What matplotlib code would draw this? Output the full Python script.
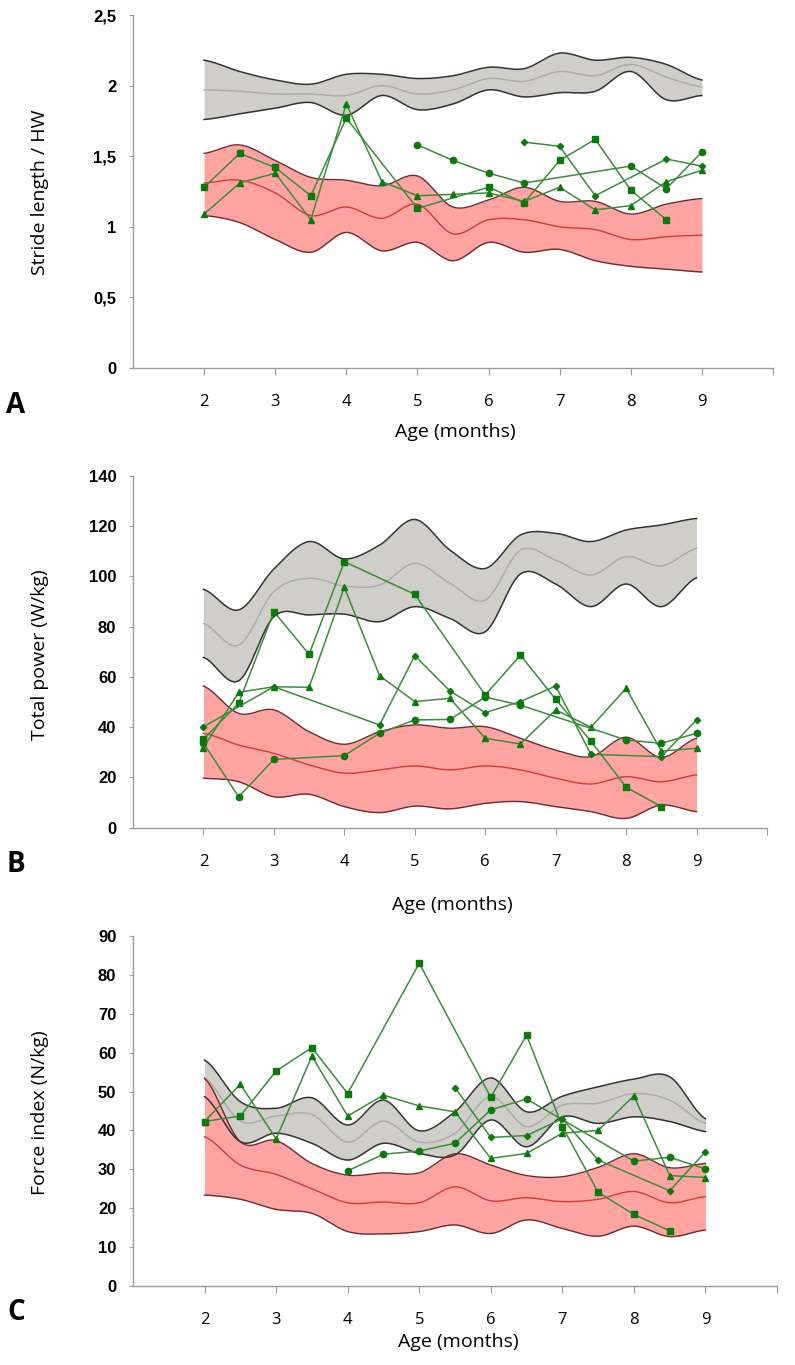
import numpy as np
import matplotlib
matplotlib.use("Agg")
import matplotlib.pyplot as plt
from matplotlib.ticker import FuncFormatter

# common knots for the reference bands (months)
knots = [2, 2.5, 3, 3.5, 4, 4.5, 5, 5.5, 6, 6.5, 7, 7.5, 8, 8.5, 9]

# ---- panel A : stride length / HW
a_grey_hi = [2.18, 2.10, 2.04, 2.01, 2.08, 2.08, 2.05, 2.07, 2.13, 2.12, 2.23, 2.18, 2.20, 2.15, 2.04]
a_grey_mid = [1.97, 1.96, 1.94, 1.94, 1.93, 2.00, 1.94, 1.97, 2.05, 2.03, 2.10, 2.07, 2.15, 2.06, 1.99]
a_grey_lo = [1.76, 1.80, 1.84, 1.88, 1.79, 1.93, 1.83, 1.87, 1.97, 1.92, 1.95, 1.96, 2.10, 1.90, 1.93]
a_red_hi = [1.52, 1.58, 1.47, 1.35, 1.33, 1.29, 1.36, 1.14, 1.19, 1.28, 1.18, 1.18, 1.09, 1.16, 1.20]
a_red_mid = [1.31, 1.33, 1.24, 1.08, 1.14, 1.06, 1.16, 0.95, 1.05, 1.05, 1.00, 0.98, 0.91, 0.93, 0.94]
a_red_lo = [1.08, 1.03, 0.91, 0.82, 0.96, 0.83, 0.89, 0.76, 0.89, 0.82, 0.84, 0.76, 0.72, 0.70, 0.68]

a_sq_x = [2, 2.5, 3, 3.5, 4, 5, 6, 6.5, 7, 7.5, 8, 8.5]
a_sq_y = [1.28, 1.52, 1.42, 1.22, 1.77, 1.13, 1.28, 1.17, 1.47, 1.62, 1.26, 1.05]
a_tri_x = [2, 2.5, 3, 3.5, 4, 4.5, 5, 5.5, 6, 6.5, 7, 7.5, 8, 8.5, 9]
a_tri_y = [1.09, 1.31, 1.38, 1.05, 1.87, 1.32, 1.22, 1.23, 1.24, 1.18, 1.28, 1.12, 1.15, 1.32, 1.40]
a_circ_x = [5, 5.5, 6, 6.5, 8, 8.5, 9]
a_circ_y = [1.58, 1.47, 1.38, 1.31, 1.43, 1.27, 1.53]
a_dia_x = [6.5, 7, 7.5, 8.5, 9]
a_dia_y = [1.60, 1.57, 1.22, 1.48, 1.43]

# ---- panel B : total power
b_grey_hi = [94.9, 86.7, 103.0, 113.9, 107.0, 112.5, 122.7, 110.5, 103.2, 116.5, 117.2, 113.9, 118.5, 120.5, 123.1]
b_grey_mid = [81.3, 72.7, 94.0, 99.3, 96.2, 96.6, 105.2, 97.3, 90.6, 110.5, 106.5, 100.6, 107.9, 104.2, 111.2]
b_grey_lo = [67.8, 58.5, 84.0, 84.7, 85.0, 82.0, 88.0, 83.3, 78.0, 101.0, 97.0, 88.0, 97.0, 88.0, 99.5]
b_red_hi = [56.4, 45.5, 46.9, 38.2, 33.2, 38.2, 40.9, 39.6, 40.2, 35.6, 30.9, 28.3, 36.0, 28.0, 35.6]
b_red_mid = [37.6, 32.9, 29.6, 25.0, 21.7, 23.0, 24.6, 23.0, 24.6, 23.0, 19.7, 17.4, 20.3, 18.3, 21.0]
b_red_lo = [19.7, 18.3, 12.3, 13.3, 8.4, 6.0, 8.6, 7.5, 9.7, 10.4, 8.4, 6.4, 3.7, 9.0, 6.4]

b_sq_x = [2, 2.5, 3, 3.5, 4, 5, 6, 6.5, 7, 7.5, 8, 8.5]
b_sq_y = [35.2, 49.5, 86.0, 69.0, 105.9, 92.9, 52.8, 68.7, 51.1, 34.5, 16.1, 8.4]
b_tri_x = [2, 2.5, 3, 3.5, 4, 4.5, 5, 5.5, 6, 6.5, 7, 7.5, 8, 8.5, 9]
b_tri_y = [31.8, 53.9, 56.1, 55.9, 95.7, 60.5, 50.2, 51.5, 35.6, 33.3, 46.9, 40.0, 55.5, 30.5, 31.6]
b_circ_x = [2, 2.5, 3, 4, 4.5, 5, 5.5, 6, 6.5, 8, 8.5, 9]
b_circ_y = [33.6, 12.3, 27.2, 28.7, 37.6, 42.9, 43.1, 52.0, 48.8, 34.9, 33.6, 37.6]
b_dia_x = [2, 3, 4.5, 5, 5.5, 6, 6.5, 7, 7.5, 8.5, 9]
b_dia_y = [40.2, 56.1, 40.9, 68.5, 54.4, 45.8, 50.2, 56.4, 29.2, 28.3, 42.9]

# ---- panel C : force index
c_grey_hi = [58.1, 47.4, 45.7, 48.4, 41.4, 47.8, 39.9, 44.8, 53.5, 44.8, 48.8, 51.2, 53.2, 53.8, 43.0]
c_grey_mid = [53.5, 42.4, 43.7, 44.1, 37.0, 42.4, 37.0, 39.3, 48.7, 41.0, 46.5, 47.0, 49.5, 47.8, 41.8]
c_grey_lo = [48.7, 37.1, 39.3, 36.7, 32.4, 36.7, 34.1, 33.7, 42.7, 35.8, 43.5, 41.8, 43.5, 42.3, 39.7]
c_red_hi = [53.4, 37.1, 37.4, 31.5, 28.5, 29.1, 29.1, 34.0, 31.1, 28.4, 28.1, 30.5, 34.0, 30.4, 31.5]
c_red_mid = [38.4, 31.1, 28.7, 25.0, 21.4, 21.6, 21.4, 25.5, 21.9, 22.7, 21.7, 22.3, 24.3, 21.4, 23.0]
c_red_lo = [23.4, 22.3, 19.7, 18.7, 14.0, 13.4, 14.0, 15.7, 13.5, 17.0, 14.8, 12.8, 15.4, 12.7, 14.4]

c_sq_x = [2, 2.5, 3, 3.5, 4, 5, 6, 6.5, 7, 7.5, 8, 8.5]
c_sq_y = [42.3, 43.7, 55.3, 61.3, 49.5, 83.0, 48.5, 64.5, 41.0, 24.1, 18.4, 14.2]
c_tri_x = [2, 2.5, 3, 3.5, 4, 4.5, 5, 5.5, 6, 6.5, 7, 7.5, 8, 8.5, 9]
c_tri_y = [42.3, 51.9, 37.8, 59.1, 43.7, 49.1, 46.3, 44.8, 32.8, 34.1, 39.3, 40.0, 48.9, 28.4, 27.9]
c_circ_x = [4, 4.5, 5, 5.5, 6, 6.5, 8, 8.5, 9]
c_circ_y = [29.6, 33.9, 34.7, 36.7, 45.3, 48.1, 32.1, 33.1, 30.1]
c_dia_x = [5.5, 6, 6.5, 7, 7.5, 8.5, 9]
c_dia_y = [51.0, 38.2, 38.7, 43.0, 32.4, 24.5, 34.5]

xticks = [2, 3, 4, 5, 6, 7, 8, 9, 10]
xticklabels = ['2', '3', '4', '5', '6', '7', '8', '9', '']


def smooth(x, y, n=24):
    # catmull-rom curve through the knots (like a smoothed line in a spreadsheet)
    x = np.asarray(x, float)
    y = np.asarray(y, float)
    p = np.concatenate([[y[0]], y, [y[-1]]])
    xs, ys = [], []
    t = np.linspace(0, 1, n, endpoint=False)
    for i in range(len(y) - 1):
        p0, p1, p2, p3 = p[i], p[i+1], p[i+2], p[i+3]
        yy = 0.5*(2*p1 + (-p0+p2)*t + (2*p0-5*p1+4*p2-p3)*t**2 + (-p0+3*p1-3*p2+p3)*t**3)
        xs.append(x[i] + (x[i+1]-x[i])*t)
        ys.append(yy)
    xs.append([x[-1]])
    ys.append([y[-1]])
    return np.concatenate(xs), np.concatenate(ys)


def band(ax, lo, mid, hi, fill, z):
    sx, slo = smooth(knots, lo)
    _, smid = smooth(knots, mid)
    _, shi = smooth(knots, hi)
    ax.fill_between(sx, slo, shi, color=fill, lw=0, zorder=z)
    return sx, slo, smid, shi


def panel(ax, ymax, ystep, grey, red, series):
    gx, glo, gmid, ghi = band(ax, *grey, '#cfcec8', 1)
    rx, rlo, rmid, rhi = band(ax, *red, '#ffa3a3', 2)
    ax.plot(gx, ghi, color='#333333', lw=1.1, zorder=3)
    ax.plot(gx, glo, color='#333333', lw=1.1, zorder=3)
    ax.plot(gx, gmid, color='#a9a9a9', lw=1.0, zorder=3)
    ax.plot(rx, rhi, color='#6a2c2c', lw=1.0, zorder=3)
    ax.plot(rx, rlo, color='#6a2c2c', lw=1.0, zorder=3)
    ax.plot(rx, rmid, color='#d63a3a', lw=1.0, zorder=3)
    for (sx, sy, m, ms) in series:
        ax.plot(sx, sy, color='#3c8c3c', lw=1.1, marker=m, ms=ms,
                mfc='#0b7a0b', mec='#0b7a0b', zorder=4)
    ax.set_xlim(1, 10)
    ax.set_ylim(0, ymax)
    ax.set_yticks(np.arange(0, ymax + ystep/2, ystep))
    ax.set_xticks(xticks)
    ax.set_xticklabels(xticklabels, fontfamily='Open Sans', fontsize=12)
    for s in ['top', 'right']:
        ax.spines[s].set_visible(False)
    for s in ['left', 'bottom']:
        ax.spines[s].set_color('#9a9a9a')
        ax.spines[s].set_linewidth(1.0)
    ax.tick_params(axis='y', length=3, color='#9a9a9a', pad=9)
    ax.tick_params(axis='x', length=5, color='#9a9a9a', pad=14)


W, H = 795, 1365
fig = plt.figure(figsize=(W/100, H/100), dpi=100)

axA = fig.add_axes([133/W, 1-368/H, 640/W, 353/H])
axB = fig.add_axes([133/W, 1-827.7/H, 634/W, 351.7/H])
axC = fig.add_axes([133/W, 1-1286/H, 644/W, 350/H])

panel(axA, 2.5, 0.5, (a_grey_lo, a_grey_mid, a_grey_hi), (a_red_lo, a_red_mid, a_red_hi),
      [(a_sq_x, a_sq_y, 's', 5), (a_tri_x, a_tri_y, '^', 5),
       (a_circ_x, a_circ_y, 'o', 4.5), (a_dia_x, a_dia_y, 'D', 3.2)])
axA.yaxis.set_major_formatter(FuncFormatter(lambda v, p: f"{v:g}".replace('.', ',')))

panel(axB, 140, 20, (b_grey_lo, b_grey_mid, b_grey_hi), (b_red_lo, b_red_mid, b_red_hi),
      [(b_sq_x, b_sq_y, 's', 5), (b_tri_x, b_tri_y, '^', 5),
       (b_circ_x, b_circ_y, 'o', 4.5), (b_dia_x, b_dia_y, 'D', 3.2)])

panel(axC, 90, 10, (c_grey_lo, c_grey_mid, c_grey_hi), (c_red_lo, c_red_mid, c_red_hi),
      [(c_sq_x, c_sq_y, 's', 5), (c_tri_x, c_tri_y, '^', 5),
       (c_circ_x, c_circ_y, 'o', 4.5), (c_dia_x, c_dia_y, 'D', 3.2)])

for ax in (axA, axB, axC):
    for lab in ax.get_yticklabels():
        lab.set_fontfamily('Liberation Sans')
        lab.set_fontweight('bold')
        lab.set_fontsize(12)

lab_kw = dict(fontfamily='Open Sans', fontsize=14)
# y labels
fig.text(40/W, 1-192/H, 'Stride length / HW', rotation=90, ha='center', va='center', **lab_kw)
fig.text(40/W, 1-655/H, 'Total power (W/kg)', rotation=90, ha='center', va='center', **lab_kw)
fig.text(40/W, 1-1113/H, 'Force index (N/kg)', rotation=90, ha='center', va='center', **lab_kw)
# x labels
fig.text(455/W, 1-432/H, 'Age (months)', ha='center', va='center', **lab_kw)
fig.text(452/W, 1-905/H, 'Age (months)', ha='center', va='center', **lab_kw)
fig.text(458/W, 1-1342/H, 'Age (months)', ha='center', va='center', **lab_kw)
# panel letters
let_kw = dict(fontfamily='Open Sans', fontsize=20, fontweight='bold', ha='center', va='center')
fig.text(16/W, 1-405/H, 'A', **let_kw)
fig.text(16/W, 1-864/H, 'B', **let_kw)
fig.text(16/W, 1-1312/H, 'C', **let_kw)

fig.savefig('out.png', dpi=100)
